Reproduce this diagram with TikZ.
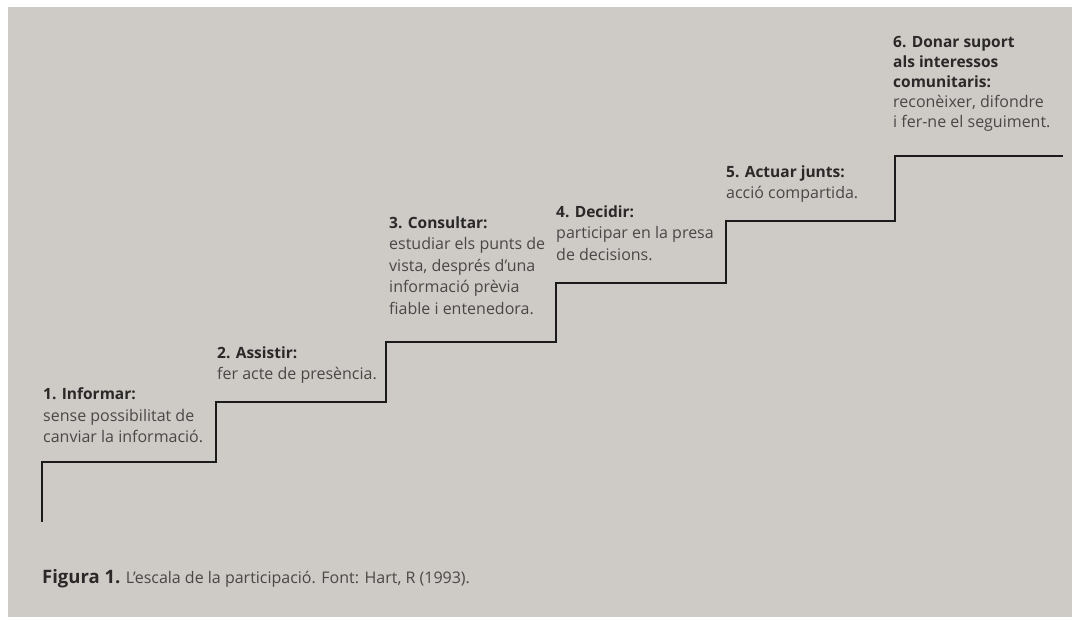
\documentclass[tikz,border=0pt]{standalone}
\usepackage{fontspec}
\setmainfont{Open Sans}
\definecolor{paper}{HTML}{CECAC6}
\definecolor{inkhead}{HTML}{2A2828}
\definecolor{inkbody}{HTML}{4A4747}
\definecolor{inkline}{HTML}{1C1B1B}
\newcommand{\stephead}[1]{{\fontsize{15.5}{21.5}\selectfont\bfseries\color{inkhead}#1}}

\begin{document}
\begin{tikzpicture}[
    x = 1pt, y = -1pt,
    every node/.style = {inner sep = 0pt, anchor = north west, align = left,
                         font = \fontsize{16}{21.5}\selectfont, text = inkbody},
    stair/.style = {draw = inkline, line width = 2.6pt, line join = miter}]

\useasboundingbox (0,0) rectangle (1072,617);
\fill[white] (0,0) rectangle (1072,617);
\fill[paper] (8,7) rectangle (1072,617);

% escala
\draw[stair] (42,522) |- (216,462) |- (386,402) |- (556,342)
             |- (726,283) |- (895,221) |- (1063,156);

% textos (cantonada superior de la primera linia)
\path (43,387.5) node (informar) {\stephead{1. Informar:}\\
          sense possibilitat de\\ canviar la informació.}
      (217,346.5) node (assistir) {\stephead{2. Assistir:}\\
          fer acte de presència.}
      (389,216.5) node (consultar) {\stephead{3. Consultar:}\\
          estudiar els punts de\\ vista, després d’una\\
          informació prèvia\\ fiable i entenedora.}
      (556,205.5) node (decidir) {\stephead{4. Decidir:}\\
          participar en la presa\\ de decisions.}
      (726,165.5) node (actuar) {\stephead{5. Actuar junts:}\\
          acció compartida.}
      (893,36.5) node[font = \fontsize{16}{20}\selectfont] (suport)
          {\stephead{6. Donar suport}\\
          \stephead{als interessos}\\ \stephead{comunitaris:}\\
          reconèixer, difondre\\ i fer-ne el seguiment.}
      ;

\node[font = \fontsize{16}{21}\selectfont] (figura) at (42,569)
    {{\fontsize{18.5}{21}\selectfont\bfseries\color{inkhead}Figura 1.} L’escala de la participació. Font: Hart, R (1993).};
\end{tikzpicture}
\end{document}
